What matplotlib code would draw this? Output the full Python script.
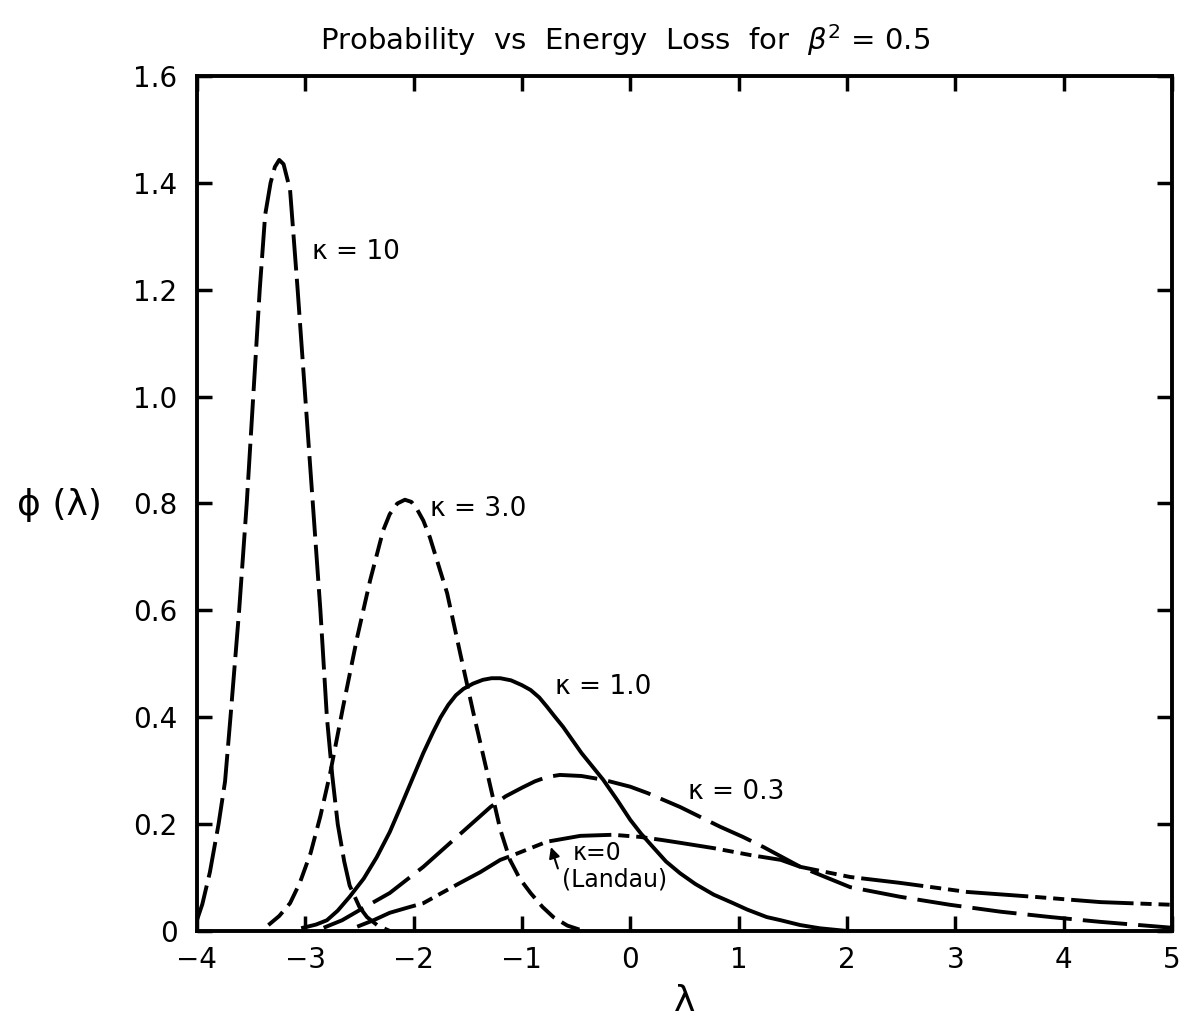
import numpy as np
import matplotlib
matplotlib.use('Agg')
import matplotlib.pyplot as plt

# curves: phi(lambda) for several kappa
k10_x = [-4.0, -3.95, -3.88, -3.80, -3.74, -3.69, -3.61, -3.54, -3.48, -3.42, -3.37,
         -3.32, -3.28, -3.24, -3.20, -3.14, -3.07, -3.00, -2.93, -2.86,
         -2.80, -2.75, -2.70, -2.64, -2.59, -2.50, -2.43, -2.33, -2.22]
k10_y = [0.02, 0.05, 0.11, 0.20, 0.28, 0.40, 0.60, 0.80, 1.00, 1.20, 1.34,
         1.40, 1.43, 1.443, 1.435, 1.387, 1.20, 1.00, 0.80, 0.60,
         0.40, 0.29, 0.20, 0.13, 0.085, 0.045, 0.026, 0.01, 0.0]

k3_x = [-3.34, -3.24, -3.14, -3.05, -2.95, -2.86, -2.77, -2.65, -2.52, -2.40, -2.28,
        -2.22, -2.15, -2.08, -2.02, -1.97, -1.91, -1.85, -1.69, -1.57, -1.45,
        -1.32, -1.20, -1.11, -1.02, -0.92, -0.81, -0.71, -0.58, -0.46]
k3_y = [0.011, 0.028, 0.052, 0.09, 0.146, 0.215, 0.295, 0.42, 0.55, 0.657, 0.75,
        0.78, 0.80, 0.807, 0.803, 0.79, 0.768, 0.737, 0.632, 0.52, 0.41,
        0.296, 0.19, 0.133, 0.098, 0.071, 0.045, 0.026, 0.01, 0.002]

k1_x = [-3.02, -2.90, -2.80, -2.70, -2.59, -2.46, -2.34, -2.22, -2.12, -2.01, -1.91,
        -1.82, -1.75, -1.68, -1.61, -1.54, -1.45, -1.36, -1.28, -1.20, -1.10, -1.00,
        -0.92, -0.84, -0.77, -0.70, -0.62, -0.45, -0.25, -0.12, 0.0, 0.10,
        0.21, 0.33, 0.46, 0.60, 0.77, 0.95, 1.08, 1.26, 1.39, 1.57, 1.75, 2.0]
k1_y = [0.006, 0.012, 0.02, 0.038, 0.064, 0.098, 0.138, 0.185, 0.232, 0.285, 0.333,
        0.372, 0.40, 0.423, 0.441, 0.453, 0.463, 0.47, 0.473, 0.473, 0.469, 0.46,
        0.451, 0.437, 0.42, 0.402, 0.382, 0.333, 0.283, 0.245, 0.208, 0.182,
        0.157, 0.13, 0.108, 0.088, 0.068, 0.052, 0.04, 0.026, 0.02, 0.011, 0.005, 0.0]

k03_x = [-2.83, -2.66, -2.49, -2.22, -1.91, -1.60, -1.29, -1.15, -1.0, -0.88, -0.77,
         -0.65, -0.45, -0.25, 0.0, 0.16, 0.46, 0.83, 1.04, 1.23, 1.57, 2.03,
         2.49, 2.95, 3.42, 3.88, 4.34, 5.0]
k03_y = [0.006, 0.02, 0.04, 0.071, 0.12, 0.176, 0.232, 0.252, 0.268, 0.280, 0.288,
         0.292, 0.29, 0.283, 0.27, 0.258, 0.232, 0.195, 0.176, 0.157, 0.12, 0.082,
         0.064, 0.049, 0.036, 0.026, 0.017, 0.006]

k0_x = [-2.52, -2.37, -2.22, -2.05, -1.91, -1.75, -1.57, -1.385, -1.20, -1.08, -0.77,
        -0.46, -0.16, 0.09, 0.30, 0.46, 0.77, 1.11, 1.39, 1.57, 2.03, 2.49,
        3.11, 3.72, 4.34, 5.0]
k0_y = [0.008, 0.02, 0.034, 0.044, 0.052, 0.07, 0.09, 0.11, 0.133, 0.142, 0.167,
        0.178, 0.18, 0.176, 0.17, 0.165, 0.155, 0.142, 0.133, 0.12, 0.101, 0.09,
        0.073, 0.064, 0.054, 0.049]

xticks = [-4, -3, -2, -1, 0, 1, 2, 3, 4, 5]
xticklabels = ['\u22124', '\u22123', '\u22122', '\u22121', '0', '1', '2', '3', '4', '5']
yticks = [0, 0.2, 0.4, 0.6, 0.8, 1.0, 1.2, 1.4, 1.6]
yticklabels = ['0', '0.2', '0.4', '0.6', '0.8', '1.0', '1.2', '1.4', '1.6']

plt.rcParams['font.family'] = ['DejaVu Sans']
plt.rcParams['lines.scale_dashes'] = False

fig = plt.figure(figsize=(11.79, 10.19), dpi=100)
ax = fig.add_axes([0.167, 0.0864, 0.827, 0.839])

lw = 2.8
ax.plot(k10_x, k10_y, color='black', lw=lw, dashes=(26, 6))
ax.plot(k3_x, k3_y, color='black', lw=lw, dashes=(14, 6))
ax.plot(k1_x, k1_y, color='black', lw=lw)
ax.plot(k03_x, k03_y, color='black', lw=lw, dashes=(32, 8))
ax.plot(k0_x, k0_y, color='black', lw=lw, dashes=(45, 5, 8, 5, 8, 5))

ax.set_xlim(-4, 5)
ax.set_ylim(0, 1.6)
ax.set_xticks(xticks)
ax.set_xticklabels(xticklabels)
ax.set_yticks(yticks)
ax.set_yticklabels(yticklabels)
ax.tick_params(direction='in', length=11, width=2.5, top=True, right=True,
               labelsize=20)
ax.tick_params(axis='x', pad=11)
ax.tick_params(axis='y', pad=14)
for s in ax.spines.values():
    s.set_linewidth(2.8)

fs = 19
ax.text(-2.94, 1.27, '\u03ba = 10', fontsize=fs, va='center')
ax.text(-1.85, 0.79, '\u03ba = 3.0', fontsize=fs, va='center')
ax.text(-0.69, 0.457, '\u03ba = 1.0', fontsize=fs, va='center')
ax.text(0.53, 0.26, '\u03ba = 0.3', fontsize=fs, va='center')
ax.text(-0.53, 0.146, '\u03ba=0', fontsize=17, va='center')
ax.text(-0.63, 0.097, '(Landau)', fontsize=17, va='center')
ax.annotate('', xy=(-0.74, 0.162), xytext=(-0.66, 0.112),
            arrowprops=dict(arrowstyle='-|>', color='black', lw=1.5,
                            mutation_scale=16))

fig.text(0.53, 0.961, r'Probability  vs  Energy  Loss  for  $\beta^2$ = 0.5',
         fontsize=21, ha='center', va='center')
fig.text(0.05, 0.504, '\u03d5 (\u03bb)', fontsize=26, ha='center', va='center')
fig.text(0.581, 0.018, '\u03bb', fontsize=26, ha='center', va='center')

fig.savefig('out.png', dpi=100)
